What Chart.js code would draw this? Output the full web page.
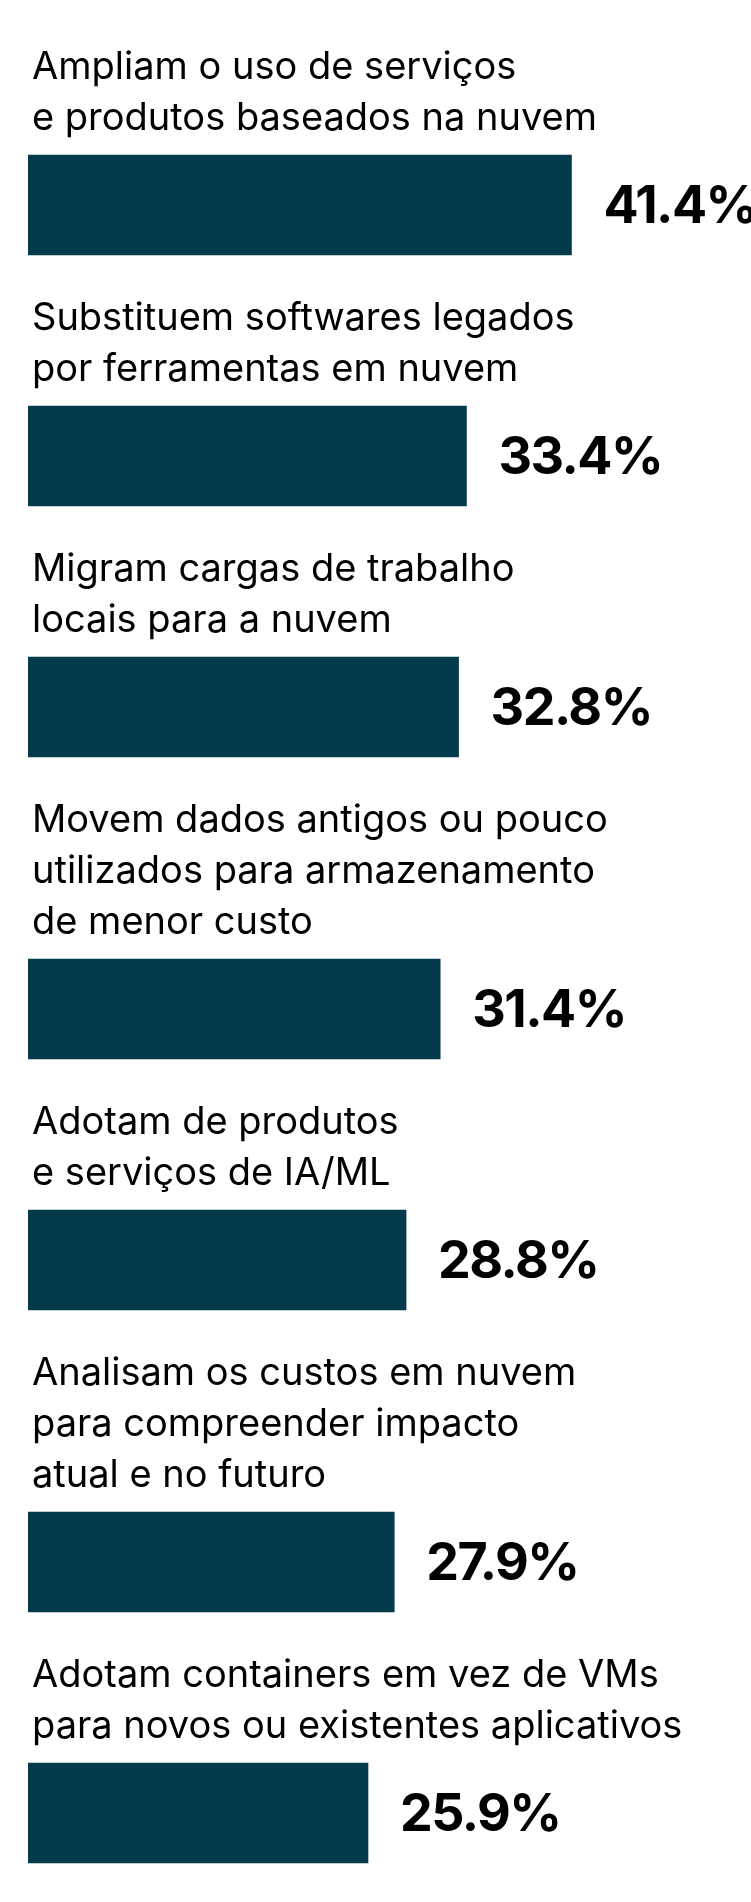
<!DOCTYPE html>
<html>
<head>
<meta charset="utf-8">
<script src="https://cdn.jsdelivr.net/npm/chart.js@4/dist/chart.umd.min.js"></script>
<style>
  html, body { margin: 0; padding: 0; background: #ffffff; }
  #wrap { width: 751px; height: 1902px; }
</style>
</head>
<body>
<div id="wrap"><canvas id="c" width="751" height="1902"></canvas></div>
<script>
// ---- data ----
const categories = [
  ["Ampliam o uso de serviços", "e produtos baseados na nuvem"],
  ["Substituem softwares legados", "por ferramentas em nuvem"],
  ["Migram cargas de trabalho", "locais para a nuvem"],
  ["Movem dados antigos ou pouco", "utilizados para armazenamento", "de menor custo"],
  ["Adotam de produtos", "e serviços de IA/ML"],
  ["Analisam os custos em nuvem", "para compreender impacto", "atual e no futuro"],
  ["Adotam containers em vez de VMs", "para novos ou existentes aplicativos"]
];
const values = [41.4, 33.4, 32.8, 31.4, 28.8, 27.9, 25.9];

// ---- layout constants (style, not data) ----
const BAR_COLOR = '#043b4c';
const LABEL_FONT = '400 38px Inter, "Noto Sans", sans-serif';
const VALUE_FONT = '700 52px Inter, "Noto Sans", sans-serif';
const LINE_H = 51;
const LABEL_GAP = 25;   // last label baseline -> bar top
const AFTER_GAP = 75;   // bar bottom -> next first baseline
const BAR_H = 100;
const FIRST_BASELINE = 79;
const X_MAX = 55;
const CANVAS_H = 1902;

// vertical slot of each bar on the linear y axis, derived from label line counts
const slots = [];
let cursor = FIRST_BASELINE;
categories.forEach(lines => {
  const center = cursor + (lines.length - 1) * LINE_H + LABEL_GAP + BAR_H / 2;
  slots.push(center);
  cursor = center + BAR_H / 2 + AFTER_GAP;
});

const points = values.map((v, i) => ({ x: v, y: slots[i] }));

const labelPlugin = {
  id: 'labels',
  afterDatasetsDraw(chart) {
    const ctx = chart.ctx;
    const meta = chart.getDatasetMeta(0);
    meta.data.forEach((bar, i) => {
      const top = bar.y - bar.height / 2;
      const left = chart.chartArea.left;
      ctx.save();
      ctx.fillStyle = '#000000';
      ctx.font = LABEL_FONT;
      ctx.textAlign = 'left';
      ctx.textBaseline = 'alphabetic';
      const lines = categories[i];
      lines.forEach((ln, k) => {
        const y = top - LABEL_GAP - (lines.length - 1 - k) * LINE_H;
        ctx.fillText(ln, left + 4, y);
      });
      ctx.font = VALUE_FONT;
      if ('letterSpacing' in ctx) ctx.letterSpacing = '-1.5px';
      ctx.textBaseline = 'middle';
      ctx.fillText(values[i].toFixed(1) + '%', bar.x + 32, bar.y + 2);
      ctx.restore();
    });
  }
};

function build() {
  new Chart(document.getElementById('c'), {
    type: 'bar',
    data: {
      datasets: [{
        data: points,
        backgroundColor: BAR_COLOR,
        borderWidth: 0,
        barThickness: BAR_H
      }]
    },
    options: {
      indexAxis: 'y',
      responsive: false,
      animation: false,
      layout: { padding: { left: 28, right: 1, top: 0, bottom: 0 } },
      plugins: { legend: { display: false }, tooltip: { enabled: false } },
      scales: {
        x: { type: 'linear', min: 0, max: X_MAX, display: false, offset: false },
        y: { type: 'linear', min: 0, max: CANVAS_H, reverse: true, display: false, offset: false }
      }
    },
    plugins: [labelPlugin]
  });
}

if (document.fonts && document.fonts.load) {
  Promise.all([
    document.fonts.load('400 38px Inter'),
    document.fonts.load('700 52px Inter')
  ]).then(build, build);
} else {
  build();
}
</script>
</body>
</html>
